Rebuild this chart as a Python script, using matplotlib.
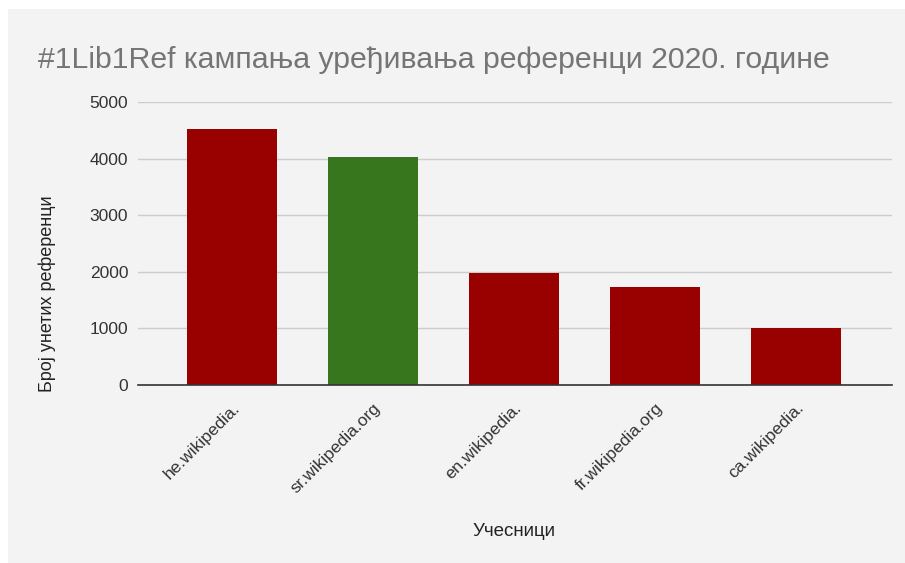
import matplotlib
matplotlib.use("Agg")
import matplotlib.pyplot as plt
from matplotlib.patches import Rectangle

# podaci sa grafika
sajtovi = ["he.wikipedia.", "sr.wikipedia.org", "en.wikipedia.", "fr.wikipedia.org", "ca.wikipedia."]
reference = [4525, 4035, 1985, 1740, 1010]
boje = ["#990000", "#38761d", "#990000", "#990000", "#990000"]
y_ticks = [0, 1000, 2000, 3000, 4000, 5000]

naslov = "#1Lib1Ref кампања уређивања референци 2020. године"
x_naziv = "Учесници"
y_naziv = "Број унетих референци"

plt.rcParams["font.family"] = ["Liberation Sans", "DejaVu Sans"]

W, H = 905, 563
fig = plt.figure(figsize=(W / 100, H / 100), dpi=100)
fig.patch.set_facecolor("white")

# sivi panel kao u Google Sheets
bg = "#f3f3f3"
fig.patches.append(Rectangle((8 / W, 0), 1, 1 - 9 / H, transform=fig.transFigure,
                             facecolor=bg, edgecolor="none", zorder=-10))

ax = fig.add_axes([138 / W, 1 - 385 / H, (892 - 138) / W, (385 - 102) / H])
ax.set_facecolor(bg)

x = range(len(sajtovi))
ax.bar(x, reference, width=0.64, color=boje, zorder=3)

ax.set_ylim(0, 5000)
ax.set_xlim(-0.665, 4.68)
ax.set_yticks(y_ticks)
ax.set_yticklabels([str(t) for t in y_ticks], fontsize=12.5, color="#333333")
ax.set_xticks(list(x))
ax.set_xticklabels(sajtovi, rotation=45, ha="right", rotation_mode="anchor",
                   fontsize=12.5, color="#333333")
ax.tick_params(axis="y", length=0, pad=7)
ax.tick_params(axis="x", length=0, pad=11)

ax.grid(axis="y", color="#cccccc", linewidth=1, zorder=0)
for s in ["top", "right", "left"]:
    ax.spines[s].set_visible(False)
ax.spines["bottom"].set_color("#333333")
ax.spines["bottom"].set_linewidth(1.2)
ax.spines["bottom"].set_zorder(4)

fig.text(38 / W, 1 - 68 / H, naslov, fontsize=21.8, color="#757575", ha="left", va="baseline")
fig.text(514 / W, 1 - 531 / H, x_naziv, fontsize=13.5, color="#222222", ha="center", va="center")
fig.text(47 / W, 1 - 294 / H, y_naziv, fontsize=13, color="#222222", ha="center", va="center",
         rotation=90)

fig.savefig("out.png", dpi=100, facecolor=fig.get_facecolor())
